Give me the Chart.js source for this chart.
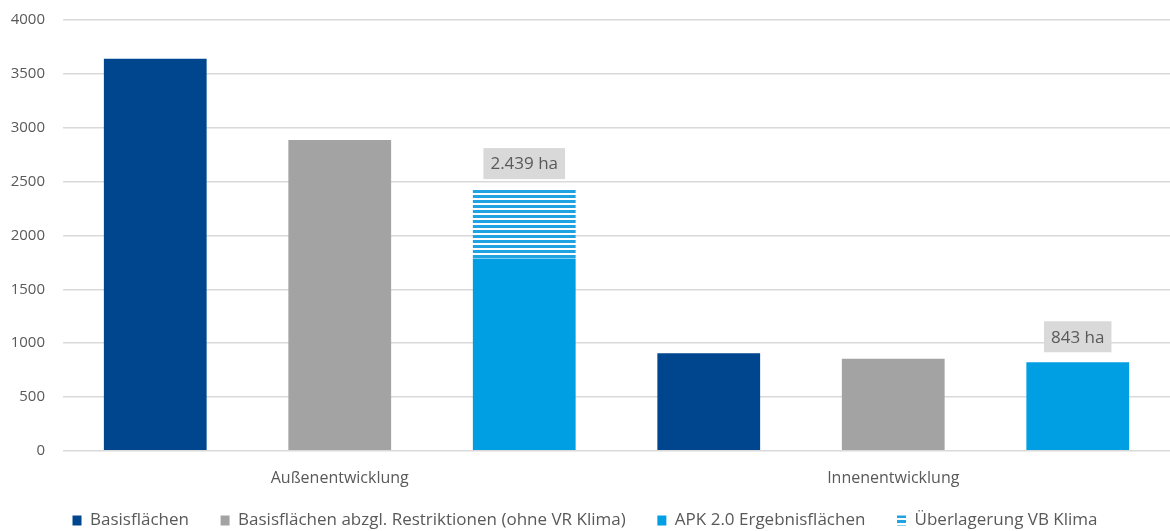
<!DOCTYPE html>
<html>
<head>
<meta charset="utf-8">
<script src="https://cdn.jsdelivr.net/npm/chart.js@4"></script>
<style>
  html, body { margin: 0; padding: 0; background: #fff; }
  #wrap { width: 1170px; height: 531px; }
</style>
</head>
<body>
<div id="wrap"><canvas id="myChart"></canvas></div>
<script>
// categories and values (ha)
var categories = ["Außenentwicklung", "Innenentwicklung"];
var basisflaechen = [3640, 905];
var basisOhneRestr = [2885, 855];
var apkErgebnis = [1785, 822];
var ueberlagerung = [645, 0];
var totalLabels = ["2.439 ha", "843 ha"];
var yTicks = [0, 500, 1000, 1500, 2000, 2500, 3000, 3500, 4000];

var FONT = "'Open Sans', 'Noto Sans', sans-serif";
var TEXT = '#595959';

// striped fill for "Überlagerung VB Klima"
var makeStripes = function () {
  var c = document.createElement('canvas');
  c.width = 8; c.height = 5;
  var g = c.getContext('2d');
  g.fillStyle = '#ffffff';
  g.fillRect(0, 0, 8, 5);
  g.fillStyle = '#1fa3e3';
  g.fillRect(0, 0, 8, 3);
  return g.createPattern(c, 'repeat');
};
var stripes = makeStripes();

// grey boxes with the totals above the APK stack
var totalBoxes = {
  id: 'totalBoxes',
  afterDatasetsDraw: function (chart) {
    var ctx = chart.ctx;
    var meta = chart.getDatasetMeta(3);
    ctx.save();
    ctx.font = '17px ' + FONT;
    ctx.textAlign = 'center';
    ctx.textBaseline = 'middle';
    meta.data.forEach(function (bar, i) {
      var txt = totalLabels[i];
      var w = ctx.measureText(txt).width + 14;
      var h = 31;
      var top = Math.min(bar.y, bar.base) - 10 - h;
      ctx.fillStyle = '#d9d9d9';
      ctx.fillRect(bar.x - w / 2, top, w, h);
      ctx.fillStyle = TEXT;
      ctx.fillText(txt, bar.x, top + h / 2 + 1);
    });
    ctx.restore();
  }
};

var ctx = document.getElementById('myChart').getContext('2d');
var chart = new Chart(ctx, {
  type: 'bar',
  data: {
    labels: categories,
    datasets: [
      { label: 'Basisflächen', data: basisflaechen, backgroundColor: '#00468f', stack: 'a' },
      { label: 'Basisflächen abzgl. Restriktionen (ohne VR Klima)', data: basisOhneRestr, backgroundColor: '#a3a3a3', stack: 'b' },
      { label: 'APK 2.0 Ergebnisflächen', data: apkErgebnis, backgroundColor: '#009fe3', stack: 'c' },
      { label: 'Überlagerung VB Klima', data: ueberlagerung, backgroundColor: stripes, stack: 'c' }
    ]
  },
  plugins: [totalBoxes],
  options: {
    responsive: true,
    maintainAspectRatio: false,
    animation: false,
    datasets: { bar: { categoryPercentage: 1.0, barPercentage: 0.557 } },
    layout: { padding: { top: 20, right: 0, left: 0, bottom: -8 } },
    plugins: {
      tooltip: { enabled: false },
      legend: {
        position: 'bottom',
        labels: {
          font: { family: FONT, size: 17 },
          color: TEXT,
          boxWidth: 9,
          boxHeight: 10,
          padding: 14,
          generateLabels: function (chart) {
            var items = Chart.defaults.plugins.legend.labels.generateLabels(chart);
            items.forEach(function (it, i) {
              if (i < items.length - 1) it.text = it.text + '    ';
            });
            return items;
          }
        }
      }
    },
    scales: {
      x: {
        grid: { display: false },
        border: { color: '#d9d9d9', width: 1 },
        ticks: { font: { family: FONT, size: 16 }, color: TEXT, padding: 10 }
      },
      y: {
        stacked: true,
        min: 0,
        max: 4000,
        afterBuildTicks: function (axis) {
          axis.ticks = yTicks.map(function (v) { return { value: v }; });
        },
        afterFit: function (axis) {
          axis.width = 63;
          axis.paddingTop = 0;
          axis.paddingBottom = 0;
        },
        grid: { color: '#d9d9d9', lineWidth: 1.5, drawTicks: false },
        border: { display: false },
        ticks: {
          font: { family: FONT, size: 15 },
          color: TEXT,
          padding: 18,
          callback: function (v) { return String(v); }
        }
      }
    }
  }
});
</script>
</body>
</html>
